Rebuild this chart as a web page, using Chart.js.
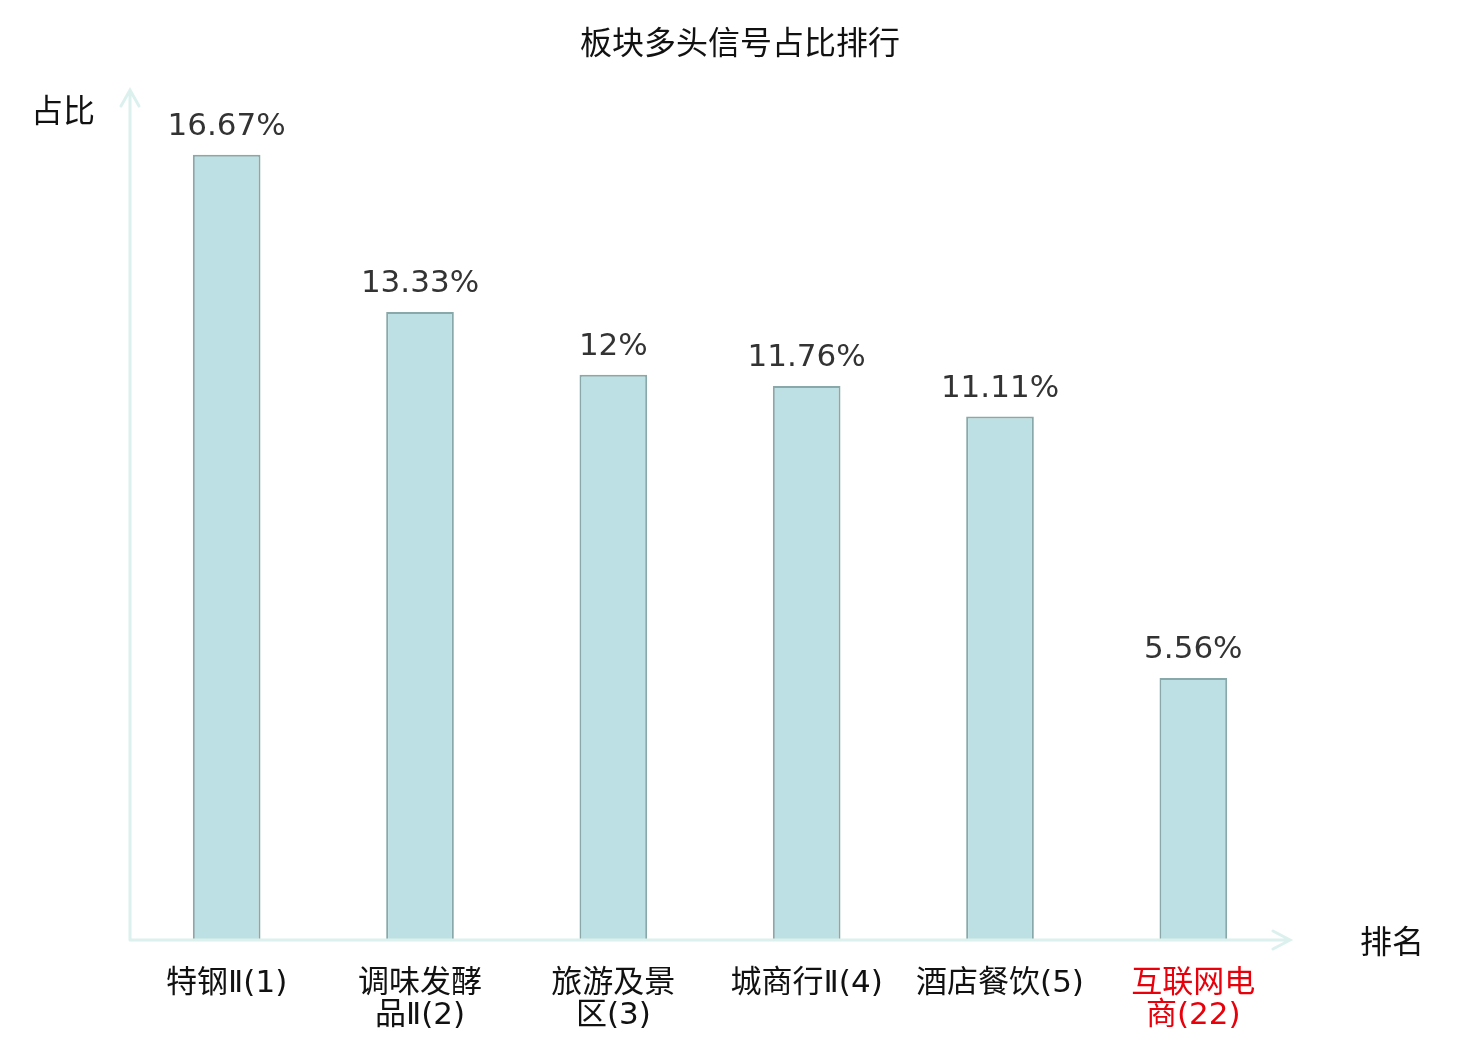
<!DOCTYPE html>
<html>
<head>
<meta charset="utf-8">
<script src="https://cdn.jsdelivr.net/npm/chart.js@4"></script>
<style>
  body { margin: 0; background: #fff; }
  #wrap { width: 1480px; height: 1040px; }
</style>
</head>
<body>
<div id="wrap"><canvas id="chart"></canvas></div>
<script>
const categories = [['特钢Ⅱ(1)'], ['调味发酵', '品Ⅱ(2)'], ['旅游及景', '区(3)'], ['城商行Ⅱ(4)'], ['酒店餐饮(5)'], ['互联网电', '商(22)']];
const shares = [16.67, 13.33, 12, 11.76, 11.11, 5.56];
const highlightIndex = 5;

const cjk = '"Noto Sans CJK SC", "Noto Sans", sans-serif';
const mixed = '"DejaVu Sans", "Noto Sans CJK SC", sans-serif';
const axisColor = '#dcf1ee';

// axes with arrows, title, axis names and value labels
const decor = {
    id: 'decor',
    afterDatasetsDraw(c) {
        const ctx = c.ctx;
        const a = c.chartArea;
        ctx.save();
        ctx.strokeStyle = axisColor;
        ctx.lineWidth = 3;
        ctx.lineCap = 'round';
        ctx.beginPath();
        ctx.moveTo(a.left, a.bottom);
        ctx.lineTo(a.left, a.top - 2);
        ctx.moveTo(a.left - 9, a.top + 14);
        ctx.lineTo(a.left, a.top - 2);
        ctx.lineTo(a.left + 9, a.top + 14);
        ctx.moveTo(a.left, a.bottom);
        ctx.lineTo(a.right, a.bottom);
        ctx.moveTo(a.right - 17, a.bottom - 9);
        ctx.lineTo(a.right, a.bottom);
        ctx.lineTo(a.right - 17, a.bottom + 9);
        ctx.stroke();

        ctx.fillStyle = '#111';
        ctx.textAlign = 'center';
        ctx.textBaseline = 'middle';
        ctx.font = '32px ' + cjk;
        ctx.fillText('板块多头信号占比排行', 740, 42);
        ctx.fillText('占比', 63, 110);
        ctx.fillText('排名', 1392, 941);

        ctx.fillStyle = '#333';
        ctx.font = '31px "DejaVu Sans", sans-serif';
        ctx.textBaseline = 'alphabetic';
        c.getDatasetMeta(0).data.forEach((bar, i) => {
            ctx.fillText(shares[i] + '%', bar.x, bar.y - 20);
        });
        ctx.restore();
    }
};

new Chart(document.querySelector('#chart'), {
    type: 'bar',
    data: {
        labels: categories,
        datasets: [{
            data: shares,
            backgroundColor: '#bce0e3',
            borderColor: '#89a8a9',
            borderWidth: 2,
            categoryPercentage: 1,
            barPercentage: 0.35
        }]
    },
    options: {
        responsive: true,
        maintainAspectRatio: false,
        animation: false,
        layout: { padding: { left: 130, right: 190, top: 92, bottom: 0 } },
        plugins: { legend: { display: false }, tooltip: { enabled: false } },
        scales: {
            x: {
                grid: { display: false, drawTicks: false },
                border: { display: false },
                afterFit: (s) => { s.height = 100; },
                ticks: {
                    autoSkip: false,
                    maxRotation: 0,
                    padding: 28,
                    font: { family: mixed, size: 31, lineHeight: 1.03 },
                    color: (t) => t.index === highlightIndex ? '#e8000b' : '#111'
                }
            },
            y: {
                display: false,
                min: 0,
                max: 18
            }
        }
    },
    plugins: [decor]
});
</script>
</body>
</html>
